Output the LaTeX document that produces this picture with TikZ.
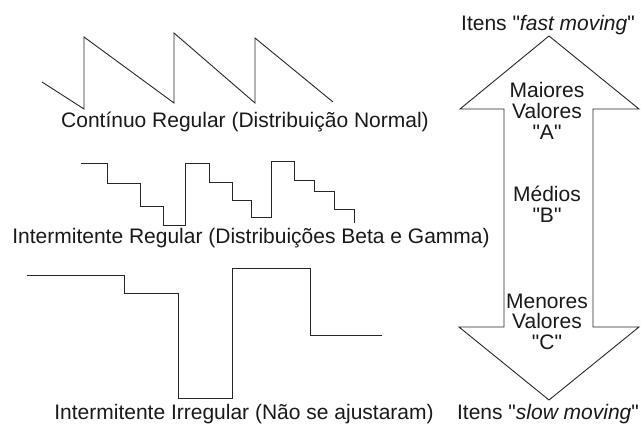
\documentclass[tikz,border=0pt]{standalone}
\usepackage{fontspec}
\setmainfont{Liberation Sans}[Ligatures=TeXOff]
\usepackage{tikz}
\newcommand{\dq}{\symbol{34}}
\tikzset{every picture/.style={line width=0.9pt}}
\tikzset{lbl/.style={font=\fontsize{21}{21}\selectfont, text=black!90, inner sep=0pt, anchor=base, align=center}}

\begin{document}
\begin{tikzpicture}[x=1pt,y=1pt,yscale=-1,xscale=1]
\useasboundingbox (0,0) rectangle (641,425);

%Straight Lines: sawtooth
\draw [color=black!85]  (42,82) -- (84,109) -- (84,37) -- (174,103) -- (174,33) -- (255,103) -- (255,38) -- (333,102) ;
%Straight Lines: regular steps
\draw [color=black!85]  (81,163) -- (107,163) -- (107,183) -- (140,183) -- (140,206) -- (163,206) -- (163,225) -- (185,225) -- (185,163) -- (209,163) -- (209,182) -- (232,182) -- (232,200) -- (251,200) -- (251,217) -- (271,217) -- (271,161) -- (294,161) -- (294,180) -- (314,180) -- (314,191) -- (334,191) -- (334,209) -- (354,209) -- (354,223) ;
%Straight Lines: irregular steps
\draw [color=black!85]  (27,275) -- (124,275) -- (124,293) -- (178,293) -- (178,398) -- (232,398) -- (232,268) -- (310,268) -- (310,335) -- (382,335) ;

%Shape: double arrow
\draw [color=black!85]  (549,36) -- (639,109) -- (593,109) -- (593,327) -- (639,327) -- (549,400) -- (459,327) -- (504,327) -- (504,109) -- (460,109) -- cycle ;

%Texts
\node [lbl] (cont) at (245,128) {Contínuo Regular (Distribuição Normal)};
\node [lbl] (intreg) at (251,244) {Intermitente Regular (Distribuições Beta e Gamma)};
\node [lbl] (intirr) at (244,420) {Intermitente Irregular (Não se ajustaram)};
\node [lbl] (fast) at (548,31) {Itens \dq\textit{fast moving}\dq};
\node [lbl] (slow) at (548,420) {Itens \dq\textit{slow moving}\dq};
\node [lbl] (maiores) at (547,140) {Maiores\\Valores\\\dq A\dq};
\node [lbl] (medios) at (547,223) {Médios\\\dq B\dq};
\node [lbl] (menores) at (547,350) {Menores\\Valores\\\dq C\dq};

\end{tikzpicture}
\end{document}
